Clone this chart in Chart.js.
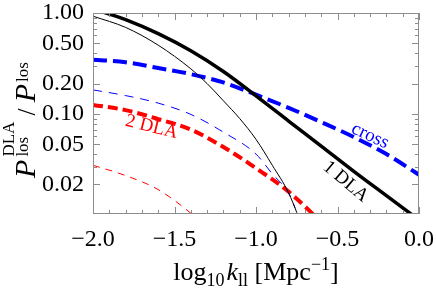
<!DOCTYPE html>
<html>
<head>
<meta charset="utf-8">
<script src="https://cdn.jsdelivr.net/npm/chart.js@4.4.0/dist/chart.umd.min.js"></script>
<style>
  body { margin: 0; background: #fff; }
</style>
</head>
<body>
<canvas id="chart" width="436" height="289"></canvas>
<script>
// values (log10 k on x, ratio on log y)
const kThick = [-2.0, -1.8, -1.6, -1.4, -1.2, -1.0, -0.8, -0.6, -0.4, -0.2, 0.0];
const oneDla = [1.10, 0.86, 0.624, 0.422, 0.263, 0.151, 0.085, 0.048, 0.027, 0.0155, 0.0089];
const cross = [0.345, 0.325, 0.285, 0.248, 0.205, 0.155, 0.115, 0.083, 0.059, 0.040, 0.025];

const kTwoDla = [-2.0, -1.8, -1.6, -1.4, -1.2, -1.0, -0.8, -0.6];
const twoDla = [0.123, 0.109, 0.089, 0.070, 0.047, 0.029, 0.0170, 0.0085];

const kOneDlaThin = [-2.0, -1.8, -1.6, -1.4, -1.3, -1.2, -1.1, -1.0, -0.9, -0.8, -0.7];
const oneDlaThin = [0.93, 0.72, 0.48, 0.28, 0.20, 0.135, 0.090, 0.056, 0.031, 0.0165, 0.0065];

const kCrossThin = [-2.0, -1.8, -1.6, -1.4, -1.2, -1.0, -0.9, -0.8, -0.76];
const crossThin = [0.173, 0.152, 0.128, 0.099, 0.066, 0.040, 0.0255, 0.0165, 0.0117];

const kTwoDlaThin = [-2.0, -1.8, -1.6, -1.4, -1.3];
const twoDlaThin = [0.031, 0.0245, 0.0178, 0.0104, 0.0075];

const xTicks = [-2.0, -1.5, -1.0, -0.5, 0.0];
const yTicks = [0.02, 0.05, 0.1, 0.2, 0.5, 1.0];

const serif = '"Liberation Serif", "DejaVu Serif", serif';
const frameColour = '#8c8c8c';

function pts(xs, ys) {
  return xs.map((x, i) => ({ x: x, y: ys[i] }));
}

function line(xs, ys, colour, width, dash) {
  return {
    data: pts(xs, ys),
    borderColor: colour,
    borderWidth: width,
    borderDash: dash,
    pointRadius: 0,
    cubicInterpolationMode: 'monotone',
    fill: false
  };
}

// draw a run of text pieces (sub/superscripts) centred on cx
function drawParts(ctx, parts, cx, baseY) {
  let total = 0;
  let kept = 0;
  parts.forEach(p => {
    ctx.font = p.font;
    p.w = ctx.measureText(p.text).width;
    p.lead = p.lead || 0;
    if (p.keep) { kept = p.w; p.adv = 0; }
    else { p.adv = Math.max(p.w, kept); kept = 0; }
    total += p.adv + p.lead;
  });
  let x = cx - total / 2;
  ctx.textAlign = 'left';
  ctx.textBaseline = 'alphabetic';
  parts.forEach(p => {
    ctx.font = p.font;
    ctx.fillText(p.text, x + p.lead, baseY + (p.dy || 0));
    x += p.adv + p.lead;
  });
}

const framePlugin = {
  id: 'frame',
  afterDatasetsDraw(chart) {
    const ctx = chart.ctx;
    const a = chart.chartArea;
    const xs = chart.scales.x;
    const ys = chart.scales.y;

    ctx.save();
    // curve labels
    const labels = [
      { text: 'cross', x: -0.30, y: 0.0606, rot: 25, colour: '#0000ff' },
      { text: '1 DLA', x: -0.45, y: 0.0213, rot: 40, colour: '#000000' },
      { text: '2 DLA', x: -1.64, y: 0.074, rot: 14, colour: '#ff0000' }
    ];
    labels.forEach(l => {
      ctx.save();
      ctx.translate(xs.getPixelForValue(l.x), ys.getPixelForValue(l.y));
      ctx.rotate(l.rot * Math.PI / 180);
      ctx.font = '19px ' + serif;
      ctx.fillStyle = l.colour;
      ctx.textAlign = 'center';
      ctx.textBaseline = 'middle';
      ctx.fillText(l.text, 0, 0);
      ctx.restore();
    });

    // frame
    ctx.strokeStyle = frameColour;
    ctx.lineWidth = 1;
    ctx.strokeRect(a.left + 0.5, a.top + 0.5, a.right - a.left - 1, a.bottom - a.top - 1);

    // ticks pointing inwards on all four sides
    ctx.beginPath();
    for (let i = 0; i <= 20; i++) {
      const v = -2 + i * 0.1;
      const major = i % 5 === 0;
      const len = major ? 7 : 4;
      const px = Math.round(xs.getPixelForValue(v)) + 0.5;
      ctx.moveTo(px, a.bottom); ctx.lineTo(px, a.bottom - len);
      ctx.moveTo(px, a.top); ctx.lineTo(px, a.top + len);
    }
    const yMinor = [];
    [0.01, 0.1].forEach(d => {
      for (let m = 1; m <= 9; m++) yMinor.push(+(d * m).toFixed(3));
    });
    yMinor.push(1.0);
    yMinor.forEach(v => {
      if (v < ys.min || v > ys.max) return;
      const major = yTicks.some(t => Math.abs(t - v) < 1e-9);
      const len = major ? 7 : 4;
      const py = Math.round(ys.getPixelForValue(v)) + 0.5;
      ctx.moveTo(a.left, py); ctx.lineTo(a.left + len, py);
      ctx.moveTo(a.right, py); ctx.lineTo(a.right - len, py);
    });
    ctx.stroke();

    // axis titles
    ctx.fillStyle = '#000';
    drawParts(ctx, [
      { text: 'log', font: '26px ' + serif },
      { text: '10', font: '18px ' + serif, dy: 6 },
      { text: ' ', font: '8px ' + serif },
      { text: 'k', font: 'italic 26px ' + serif },
      { text: 'll', font: '18px ' + serif, dy: 6 },
      { text: ' [Mpc', font: '26px ' + serif },
      { text: '\u22121', font: '18px ' + serif, dy: -10 },
      { text: ']', font: '26px ' + serif }
    ], (a.left + a.right) / 2, 280);

    ctx.save();
    ctx.translate(35, 120);
    ctx.rotate(-Math.PI / 2);
    drawParts(ctx, [
      { text: 'P', font: 'italic 30px ' + serif },
      { text: 'DLA', font: '17px ' + serif, dy: -21, keep: true, lead: 3 },
      { text: 'los', font: '17px ' + serif, dy: -7 },
      { text: ' / ', font: '25px ' + serif },
      { text: 'P', font: 'italic 30px ' + serif },
      { text: 'los', font: '17px ' + serif, dy: -7, lead: 2 }
    ], 0, 0);
    ctx.restore();

    ctx.restore();
  }
};

new Chart(document.getElementById('chart'), {
  type: 'line',
  data: {
    datasets: [
      line(kThick, oneDla, '#000000', 3.5, []),
      line(kOneDlaThin, oneDlaThin, '#000000', 1, []),
      line(kThick, cross, '#0000ff', 4, [14, 6]),
      line(kCrossThin, crossThin, '#0000ff', 1, [9, 7]),
      line(kTwoDla, twoDla, '#ff0000', 4, [10, 5]),
      line(kTwoDlaThin, twoDlaThin, '#ff0000', 1, [7, 6])
    ]
  },
  options: {
    responsive: false,
    animation: false,
    devicePixelRatio: 1,
    layout: { padding: { top: 13, right: 17, left: 0, bottom: 0 } },
    plugins: {
      legend: { display: false },
      tooltip: { enabled: false }
    },
    scales: {
      x: {
        type: 'linear',
        min: -2,
        max: 0,
        afterBuildTicks: scale => { scale.ticks = xTicks.map(v => ({ value: v })); },
        afterFit: scale => {
          scale.height = 75;
          scale.paddingLeft = 0;
          scale.paddingRight = 0;
        },
        grid: { display: false, drawTicks: false },
        border: { display: false },
        ticks: {
          autoSkip: false,
          maxRotation: 0,
          padding: 11,
          color: '#000',
          font: { family: serif, size: 24 },
          callback: v => (v < 0 ? '\u2212' : '') + Math.abs(v).toFixed(1)
        }
      },
      y: {
        type: 'logarithmic',
        min: 0.0102,
        max: 1.0,
        afterBuildTicks: scale => { scale.ticks = yTicks.map(v => ({ value: v })); },
        afterFit: scale => {
          scale.width = 93;
          scale.paddingTop = 0;
          scale.paddingBottom = 0;
        },
        grid: { display: false, drawTicks: false },
        border: { display: false },
        ticks: {
          autoSkip: false,
          padding: 9,
          color: '#000',
          font: { family: serif, size: 24 },
          callback: v => Number(v).toFixed(2)
        }
      }
    }
  },
  plugins: [framePlugin]
});
</script>
</body>
</html>
